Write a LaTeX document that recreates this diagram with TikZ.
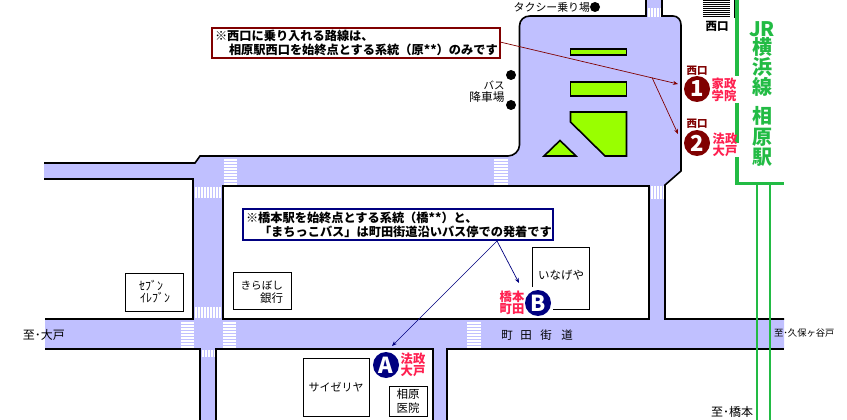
\documentclass[tikz,border=0pt]{standalone}
\usepackage{fontspec}
\setmainfont{Noto Sans CJK JP}
\usetikzlibrary{arrows.meta}
\definecolor{road}{HTML}{C0C0FF}
\definecolor{lime}{HTML}{99FF00}
\definecolor{jr}{HTML}{22BB44}
\definecolor{dred}{HTML}{800000}
\definecolor{dblue}{HTML}{000080}
\definecolor{pink}{HTML}{FF2050}
\newcommand{\px}[1]{\fontsize{#1pt}{#1pt}\selectfont}
\newcommand{\hstripes}[3]{\foreach \yy in {0,3,...,24}{\fill[white] (#1,#3+\yy) rectangle (#2,#3+\yy+2);}}
\tikzset{
  x=1pt,y=-1pt,
  every node/.style={inner sep=0pt,outer sep=0pt},
  wall/.style={draw=black,line width=1.6pt},
  isle/.style={draw=black,line width=1.6pt,fill=lime,line join=miter},
  bldg/.style={draw=black,line width=0.8pt,fill=white},
  lab/.style={font=\px{11.5},text=black,align=center},
  big/.style={font=\px{18}\bfseries,text=jr},
  stopname/.style={font=\fontsize{12.3pt}{11.8pt}\selectfont\bfseries,text=pink,align=center},
  gate/.style={font=\px{10.5}\bfseries,text=dred},
  redbox/.style={draw=dred,line width=2pt,fill=white,minimum width=288pt,minimum height=30pt},
  bluebox/.style={draw=dblue,line width=2pt,fill=white,minimum width=310pt,minimum height=31pt},
  note/.style={font=\px{12.2}\bfseries,text=black,anchor=west},
  stopdot/.style={circle,minimum size=26pt,text=white,font=\px{22}\bfseries},
  dot/.style={circle,fill=black,minimum size=10pt},
  redline/.style={draw=dred,line width=0.7pt,-{Stealth[length=5pt,width=4pt]}},
  blueline/.style={draw=dblue,line width=0.7pt,-{Stealth[length=5pt,width=4pt]}},
}
\begin{document}
\begin{tikzpicture}
\useasboundingbox (0,0) rectangle (847,420);
\fill[white] (0,0) rectangle (847,420);
% road surface
\fill[road] (44,163) -- (195,163) -- (200,156) -- (508,156) .. controls (514,156) and (519.5,151) .. (519.5,145)
  -- (519.5,26) .. controls (519.5,20) and (524,16) .. (530,16) -- (646,16) -- (646,0) -- (662,0) -- (662,16)
  -- (673,16) .. controls (678,16) and (681,20) .. (681,25) -- (681,171) -- (665,185) -- (665,319) -- (784,319)
  -- (784,349) -- (447,349) -- (447,420) -- (433,420) -- (433,349) -- (216,349) -- (216,420) -- (200,420)
  -- (200,349) -- (45,349) -- (45,319) -- (193,319) -- (193,179) -- (44,179) -- cycle;
% crosswalks
\hstripes{494}{508}{159}
\hstripes{224}{237}{159}
\hstripes{181}{194}{322}
\hstripes{223}{236}{322}
\hstripes{467}{481}{322}
\foreach \xx in {648,651,654,657,660}{\fill[white] (\xx,8) rectangle (\xx+2,17);}
\foreach \xx in {651,654,657,660,663}{\fill[white] (\xx,186) rectangle (\xx+1.6,199);}
\foreach \xx in {195,198,...,219}{\fill[white] (\xx,187) rectangle (\xx+2,198);}
\foreach \xx in {195,198,...,219}{\fill[white] (\xx,307) rectangle (\xx+2,318);}
\foreach \xx in {202,205,...,214}{\fill[white] (\xx,350) rectangle (\xx+1.6,357);}
% block and road edges
\fill[white] (223,186) rectangle (649,319);
\draw[wall] (223,186) -- (649,186) -- (649,319) -- (223,319) -- cycle;
\draw[wall] (44,163) -- (195,163) -- (200,156) -- (508,156) .. controls (514,156) and (519.5,151) .. (519.5,145)
  -- (519.5,26) .. controls (519.5,20) and (524,16) .. (530,16) -- (646,16) -- (646,0);
\draw[wall] (662,0) -- (662,16) -- (673,16) .. controls (678,16) and (681,20) .. (681,25) -- (681,171) -- (665,185) -- (665,319) -- (784,319);
\draw[wall] (44,179) -- (193,179) -- (193,319) -- (45,319);
\draw[wall] (45,349) -- (200,349) -- (200,420);
\draw[wall] (216,420) -- (216,349) -- (433,349) -- (433,420);
\draw[wall] (447,420) -- (447,349) -- (784,349);
% islands
\draw[isle] (570.5,49) rectangle (626.5,55);
\draw[isle] (570.5,82) rectangle (626.5,96);
\draw[isle] (570.5,112) -- (626.5,112) -- (626.5,156) -- (605,156) -- (570.5,122) -- cycle;
\draw[isle] (544,156) -- (560,140.5) -- (576,156) -- cycle;
% railway
\draw[jr,line width=3.2pt] (737,0) -- (737,76);
\draw[jr,line width=3.2pt] (737,103) -- (737,143);
\draw[jr,line width=3.2pt] (737,157) -- (737,183.5) -- (784,183.5);
\draw[jr,line width=1.8pt] (757,184) -- (757,420);
\draw[jr,line width=1.8pt] (770,184) -- (770,420);
% station gate
\foreach \yy in {0.5,2.5,...,16.5}{\draw[black,line width=0.8pt] (703,\yy) -- (730,\yy);}
\draw[black,line width=0.8pt] (734.5,0) -- (734.5,18);
\node[font=\px{11.5}\bfseries] (gateW) at (717,26) {西口};
\node[big,font=\px{20}\bfseries] (jrA) at (762,29) {JR};
\node[big,font=\px{20}\bfseries] (jrB) at (762,47) {横};
\node[big,font=\px{20}\bfseries] (jrC) at (762,67) {浜};
\node[big,font=\px{20}\bfseries] (jrD) at (762,87) {線};
\node[big,font=\px{20}\bfseries] (jrE) at (762,116) {相};
\node[big,font=\px{20}\bfseries] (jrF) at (762,137) {原};
\node[big,font=\px{20}\bfseries] (jrG) at (762,157) {駅};
% buildings
\node[bldg,minimum width=58pt,minimum height=38pt] (seven) at (154,292) {};
\node[lab,font=\px{12},anchor=west] (sevenT) at (139,286) {ｾﾌﾞﾝ};
\node[lab,font=\px{12},anchor=west] (sevenU) at (140,298) {ｲﾚﾌﾞﾝ};
\node[bldg,minimum width=58pt,minimum height=37pt] (kira) at (262,290.5) {};
\node[lab,font=\px{10.6},anchor=east] (kiraT) at (283,286) {きらぼし};
\node[lab,font=\px{11.5},anchor=east] (kiraU) at (283,298) {銀行};
\draw[black,line width=0.8pt] (532,287) -- (532,247) -- (589,247) -- (589,309) -- (553,309);
\node[lab] (inageya) at (561,275) {いなげや};
\node[bldg,minimum width=66pt,minimum height=58pt] (saize) at (336,387) {};
\node[lab,font=\px{11}] (saizeT) at (336,387) {サイゼリヤ};
\node[bldg,minimum width=38pt,minimum height=30pt] (aihara) at (408,401) {};
\node[lab] (aiharaT) at (408,394) {相原};
\node[lab] (aiharaU) at (408,408) {医院};
% small labels
\node[dot] (taxi) at (595,7) {};
\node[lab,font=\px{10.9},anchor=east] (taxiT) at (590,7) {タクシー乗り場};
\node[dot] (busA) at (511,75) {};
\node[dot] (busB) at (511,105) {};
\node[lab,font=\px{10.5}] (busT) at (494,85) {バス};
\node[lab,font=\px{11.7}] (busU) at (487,97) {降車場};
\node[lab,font=\px{12},anchor=west] (toOdo) at (23,335) {至･大戸};
\node[lab,font=\px{9.3},anchor=west] (toKubo) at (774,333) {至･久保ヶ谷戸};
\node[lab,font=\px{12},anchor=east] (toHashi) at (753,412) {至･橋本};
\node[lab] (m1) at (507,335) {町};
\node[lab] (m2) at (526,335) {田};
\node[lab] (m3) at (546,335) {街};
\node[lab] (m4) at (567,335) {道};
% stops
\node[stopdot,fill=dred] (s1) at (697,89) {1};
\node[stopdot,fill=dred] (s2) at (697,143) {2};
\node[gate] (g1) at (697,71) {西口};
\node[gate] (g2) at (697,124) {西口};
\node[stopname] (l1) at (724,89.5) {家政\\学院};
\node[stopname] (l2) at (725,144.5) {法政\\大戸};
\node[stopdot,fill=dblue] (sB) at (538,303) {B};
\node[stopdot,fill=dblue] (sA) at (386,365) {A};
\node[stopname] (lB) at (512,302.5) {橋本\\町田};
\node[stopname] (lA) at (413,365) {法政\\大戸};
% notes
\node[redbox] (rb) at (356,43) {};
\node[note] (r1) at (215,36) {※西口に乗り入れる路線は、};
\node[note] (r2) at (229,49.5) {相原駅西口を始終点とする系統（原**）のみです};
\node[bluebox] (bb) at (398,224.5) {};
\node[note] (b1) at (246,218) {※橋本駅を始終点とする系統（橋**）と、};
\node[note] (b2) at (259,231.5) {「まちっこバス」は町田街道沿いバス停での発着です};
% connectors
\coordinate (tr1) at (678,84);
\coordinate (tr2) at (678,134);
\coordinate (tb1) at (519,283);
\coordinate (tb2) at (392,346);
\coordinate (jn) at (652,77.5);
\coordinate (rs) at (500,42);
\coordinate (bs) at (497,241);
\draw[redline] (rs) -- (tr1);
\draw[redline] (jn) -- (tr2);
\draw[blueline] (bs) -- (tb1);
\draw[blueline] (bs) -- (tb2);
\end{tikzpicture}
\end{document}
